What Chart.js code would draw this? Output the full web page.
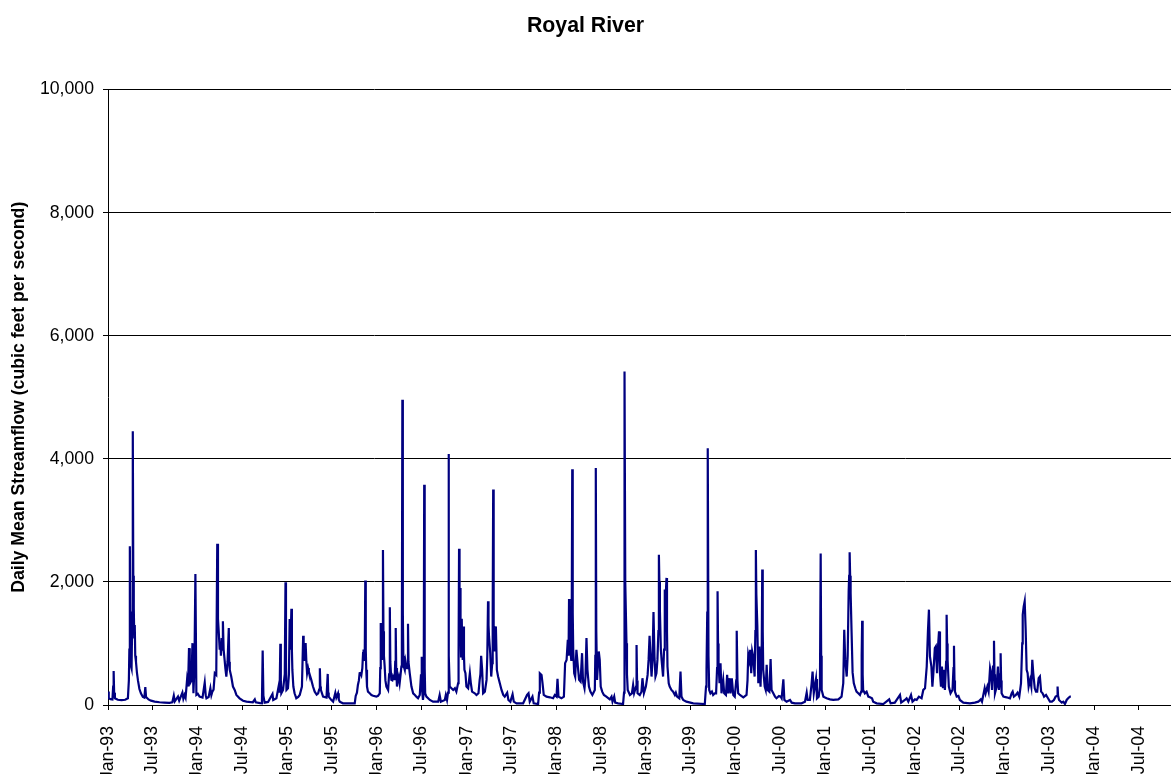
<!DOCTYPE html>
<html>
<head>
<meta charset="utf-8">
<script src="https://cdn.jsdelivr.net/npm/chart.js@4.4.0/dist/chart.umd.min.js"></script>
<style>
  html, body { margin: 0; padding: 0; background: #fff; }
  #wrap { width: 1171px; height: 774px; }
</style>
</head>
<body>
<div id="wrap"><canvas id="flowChart" width="1171" height="774"></canvas></div>
<script>
/* ================= DATA ================= */
const chartTitle = "Royal River";
const yAxisTitle = "Daily Mean Streamflow (cubic feet per second)";

const tickLabels = [
  "Jan-93", "Jul-93", "Jan-94", "Jul-94", "Jan-95", "Jul-95", "Jan-96", "Jul-96",
  "Jan-97", "Jul-97", "Jan-98", "Jul-98", "Jan-99", "Jul-99", "Jan-00", "Jul-00",
  "Jan-01", "Jul-01", "Jan-02", "Jul-02", "Jan-03", "Jul-03", "Jan-04", "Jul-04"
];
const yTicks = [0, 2000, 4000, 6000, 8000, 10000];

// days since 1 Jan 1993
const days = [
  0, 2, 4, 10, 18, 21, 23, 25, 28, 40, 55, 70, 81, 85, 87, 89, 91, 93, 96, 99,
  101, 103, 105, 107, 109, 111, 114, 118, 122, 128, 134, 142, 148, 152, 155, 165, 175, 190, 210, 230,
  250, 262, 268, 272, 285, 290, 303, 307, 312, 316, 322, 326, 330, 333, 335, 340, 344, 348, 352, 356,
  360, 366, 373, 385, 394, 398, 401, 410, 417, 421, 425, 430, 435, 441, 445, 448, 451, 455, 458, 460,
  463, 466, 468, 471, 475, 478, 482, 487, 492, 494, 496, 502, 509, 516, 523, 536, 550, 564, 590, 598,
  602, 620, 627, 630, 633, 638, 652, 670, 673, 686, 695, 699, 702, 704, 706, 713, 720, 723, 725, 727,
  733, 737, 740, 743, 747, 749, 751, 755, 760, 767, 775, 781, 790, 795, 797, 799, 802, 805, 808, 811,
  815, 818, 824, 828, 835, 842, 850, 856, 860, 863, 865, 867, 876, 890, 895, 897, 899, 910, 917, 926,
  930, 937, 940, 944, 957, 980, 1005, 1009, 1014, 1018, 1022, 1025, 1029, 1032, 1036, 1039, 1041, 1043, 1046, 1048,
  1050, 1052, 1055, 1059, 1066, 1073, 1080, 1093, 1100, 1107, 1109, 1111, 1113, 1116, 1118, 1120, 1122, 1124, 1127, 1130,
  1134, 1141, 1145, 1148, 1150, 1154, 1158, 1161, 1165, 1168, 1170, 1172, 1174, 1177, 1180, 1184, 1188, 1192, 1195, 1197,
  1199, 1201, 1203, 1205, 1209, 1212, 1215, 1218, 1222, 1224, 1229, 1236, 1243, 1250, 1256, 1263, 1270, 1275, 1277, 1279,
  1283, 1286, 1288, 1290, 1292, 1297, 1311, 1324, 1345, 1351, 1356, 1372, 1376, 1381, 1385, 1387, 1389, 1392, 1399, 1406,
  1413, 1419, 1426, 1428, 1430, 1432, 1434, 1436, 1438, 1441, 1443, 1445, 1448, 1450, 1452, 1456, 1460, 1467, 1474, 1478,
  1483, 1494, 1501, 1509, 1514, 1517, 1520, 1524, 1528, 1535, 1542, 1545, 1548, 1550, 1552, 1557, 1561, 1565, 1567, 1569,
  1571, 1574, 1576, 1580, 1584, 1589, 1596, 1603, 1610, 1616, 1626, 1631, 1639, 1648, 1653, 1664, 1691, 1707, 1713, 1718,
  1729, 1734, 1752, 1756, 1759, 1766, 1770, 1775, 1786, 1800, 1813, 1820, 1827, 1831, 1835, 1847, 1857, 1862, 1868, 1873,
  1876, 1878, 1880, 1882, 1887, 1889, 1891, 1893, 1895, 1899, 1903, 1908, 1914, 1919, 1925, 1931, 1935, 1941, 1945, 1949,
  1953, 1959, 1965, 1973, 1983, 1985, 1987, 1989, 1992, 1999, 2003, 2007, 2013, 2020, 2030, 2044, 2051, 2055, 2062, 2066,
  2078, 2098, 2102, 2104, 2107, 2112, 2114, 2117, 2126, 2134, 2139, 2143, 2151, 2153, 2155, 2157, 2166, 2173, 2177, 2183,
  2191, 2198, 2202, 2206, 2210, 2214, 2218, 2222, 2226, 2230, 2234, 2238, 2242, 2244, 2246, 2248, 2252, 2255, 2261, 2265,
  2268, 2271, 2275, 2277, 2279, 2284, 2288, 2295, 2302, 2309, 2313, 2318, 2327, 2332, 2336, 2343, 2356, 2384, 2431, 2436,
  2438, 2441, 2443, 2446, 2449, 2454, 2460, 2465, 2472, 2477, 2481, 2483, 2485, 2487, 2491, 2495, 2499, 2506, 2510, 2517,
  2522, 2526, 2532, 2536, 2541, 2547, 2553, 2559, 2561, 2564, 2567, 2574, 2588, 2601, 2605, 2608, 2612, 2616, 2620, 2624,
  2628, 2634, 2637, 2639, 2641, 2645, 2649, 2653, 2658, 2663, 2665, 2667, 2669, 2675, 2679, 2683, 2687, 2694, 2699, 2703,
  2710, 2717, 2723, 2733, 2740, 2744, 2751, 2755, 2764, 2778, 2785, 2798, 2825, 2839, 2846, 2850, 2859, 2866, 2870, 2875,
  2884, 2888, 2895, 2900, 2903, 2905, 2907, 2914, 2927, 2941, 2954, 2975, 2988, 2995, 2999, 3003, 3009, 3013, 3017, 3019,
  3021, 3023, 3025, 3029, 3033, 3038, 3044, 3049, 3056, 3063, 3068, 3070, 3072, 3074, 3076, 3083, 3090, 3097, 3104, 3112,
  3117, 3131, 3158, 3182, 3188, 3205, 3226, 3231, 3246, 3253, 3260, 3271, 3277, 3287, 3294, 3303, 3314, 3321, 3328, 3335,
  3340, 3344, 3348, 3354, 3358, 3362, 3368, 3372, 3377, 3381, 3385, 3389, 3393, 3397, 3401, 3405, 3409, 3414, 3416, 3418,
  3420, 3425, 3432, 3440, 3444, 3446, 3448, 3450, 3457, 3464, 3470, 3484, 3511, 3531, 3545, 3555, 3560, 3571, 3575, 3582,
  3587, 3593, 3597, 3601, 3605, 3609, 3611, 3613, 3620, 3625, 3629, 3634, 3636, 3638, 3640, 3647, 3660, 3674, 3681, 3685,
  3690, 3698, 3705, 3712, 3719, 3724, 3726, 3730, 3734, 3738, 3742, 3746, 3750, 3756, 3761, 3765, 3769, 3775, 3780, 3785,
  3791, 3796, 3801, 3807, 3813, 3821, 3829, 3837, 3845, 3853, 3860, 3866, 3868, 3870, 3874, 3885, 3891, 3898, 3905, 3911,
  3918, 3922
];

// daily mean streamflow, cfs
const flow = [
  180, 220, 110, 95, 90, 300, 554, 200, 110, 85, 80, 85, 110, 400, 900, 2580, 1200, 650, 600, 1500,
  4450, 2100, 1580, 1100, 1300, 800, 700, 520, 400, 260, 190, 130, 120, 290, 130, 90, 70, 55, 45, 40,
  35, 45, 152, 60, 136, 70, 200, 100, 163, 120, 408, 300, 924, 500, 360, 400, 1005, 190, 600, 2130,
  163, 180, 136, 120, 364, 160, 110, 130, 272, 160, 217, 250, 516, 489, 2620, 1400, 1196, 900, 1005, 800,
  1087, 900, 1359, 900, 733, 600, 462, 700, 1250, 700, 570, 462, 300, 245, 163, 109, 70, 54, 45, 92,
  45, 30, 27, 886, 150, 38, 50, 180, 82, 109, 300, 200, 995, 400, 190, 245, 500, 1995, 600, 245,
  272, 500, 1397, 900, 1565, 900, 570, 300, 190, 109, 130, 163, 300, 1125, 800, 733, 800, 1005, 700, 516,
  600, 543, 462, 408, 300, 217, 170, 190, 250, 598, 300, 245, 136, 120, 505, 200, 136, 80, 54, 200,
  120, 190, 90, 54, 27, 25, 27, 147, 200, 326, 400, 516, 520, 489, 600, 842, 900, 733, 900, 2022,
  900, 571, 300, 217, 190, 163, 150, 136, 150, 190, 600, 1331, 900, 733, 1300, 2520, 1200, 800, 625, 400,
  299, 245, 500, 1587, 700, 408, 400, 462, 420, 462, 700, 1250, 600, 300, 400, 462, 353, 500, 625, 900,
  4960, 1500, 800, 625, 571, 700, 625, 600, 1320, 700, 516, 300, 190, 163, 136, 109, 163, 500, 786, 300,
  82, 200, 3580, 600, 190, 136, 82, 54, 54, 163, 54, 82, 163, 82, 200, 4080, 800, 300, 272, 245,
  272, 217, 353, 800, 2540, 1500, 1900, 1200, 788, 1400, 900, 733, 1277, 800, 570, 516, 300, 272, 516, 353,
  217, 190, 163, 190, 408, 500, 800, 571, 190, 217, 408, 800, 1685, 1300, 1114, 842, 462, 679, 1500, 3500,
  1277, 1000, 870, 1277, 570, 462, 353, 245, 163, 136, 200, 82, 54, 174, 54, 27, 27, 163, 190, 54,
  136, 27, 16, 200, 516, 489, 353, 163, 136, 125, 109, 163, 136, 424, 136, 109, 136, 680, 733, 1060,
  800, 1723, 1200, 951, 733, 1500, 3830, 1500, 897, 516, 462, 897, 625, 408, 380, 842, 380, 272, 462, 1087,
  571, 299, 217, 163, 245, 800, 3850, 1200, 408, 870, 734, 299, 217, 163, 136, 92, 136, 54, 136, 38,
  27, 16, 200, 5420, 2000, 1005, 500, 245, 163, 190, 326, 190, 300, 976, 400, 190, 163, 217, 435, 190,
  299, 489, 733, 1125, 788, 462, 733, 1511, 788, 462, 516, 733, 1200, 2440, 2000, 1550, 900, 733, 462, 900,
  1875, 1700, 2065, 1200, 625, 353, 299, 245, 217, 163, 200, 136, 109, 543, 136, 82, 54, 27, 16, 300,
  598, 1500, 4170, 800, 245, 190, 217, 163, 190, 190, 600, 1848, 1000, 679, 353, 679, 190, 408, 190, 163,
  489, 190, 435, 190, 435, 163, 136, 400, 1206, 400, 190, 163, 125, 163, 400, 815, 734, 897, 516, 870,
  788, 462, 1200, 2520, 1800, 1277, 353, 951, 299, 1000, 2200, 1200, 571, 299, 245, 652, 245, 217, 745, 245,
  190, 136, 109, 147, 136, 109, 418, 82, 54, 82, 38, 27, 27, 54, 200, 82, 82, 342, 543, 190,
  424, 109, 136, 300, 2460, 800, 245, 136, 109, 92, 82, 92, 136, 353, 1223, 733, 462, 800, 1848, 2100,
  2480, 2100, 1820, 1168, 530, 353, 272, 217, 190, 163, 217, 800, 1370, 500, 245, 190, 217, 136, 125, 109,
  54, 27, 16, 92, 27, 38, 163, 38, 82, 109, 54, 163, 54, 92, 82, 136, 109, 245, 272, 625,
  1206, 1549, 788, 625, 299, 516, 924, 951, 516, 951, 1196, 516, 299, 625, 272, 571, 245, 700, 1467, 1000,
  734, 299, 190, 245, 600, 962, 400, 217, 136, 147, 82, 38, 27, 38, 54, 92, 54, 272, 190, 299,
  217, 598, 516, 245, 625, 1043, 500, 190, 299, 625, 245, 500, 842, 400, 190, 136, 125, 109, 190, 217,
  136, 163, 200, 136, 353, 1000, 1467, 1603, 1685, 1223, 570, 516, 299, 408, 299, 733, 516, 272, 217, 217,
  435, 462, 217, 190, 136, 163, 109, 54, 54, 82, 136, 150, 300, 150, 82, 38, 54, 16, 82, 109,
  136, 140
];

/* ================= AXIS HELPERS ================= */
const START_UTC = Date.UTC(1993, 0, 1);
const MONTH_INDEX = { Jan: 0, Jul: 6 };
const X_MAX_DAY = 4330;

function labelToDay(label) {
  const [mon, yy] = label.split("-");
  const n = Number(yy);
  const year = n < 50 ? 2000 + n : 1900 + n;
  return Math.round((Date.UTC(year, MONTH_INDEX[mon], 1) - START_UTC) / 86400000);
}

const tickDays = tickLabels.map(labelToDay);
const points = days.map((d, i) => ({ x: d, y: flow[i] }));

const FONT = "'Liberation Sans', Arial, sans-serif";

/* ================= CHART ================= */
new Chart(document.getElementById("flowChart"), {
  type: "line",
  data: {
    datasets: [
      {
        data: points,
        borderColor: "#000080",
        borderWidth: 2.2,
        pointRadius: 0,
        tension: 0,
        fill: false,
      },
    ],
  },
  options: {
    responsive: false,
    animation: false,
    devicePixelRatio: 1,
    layout: { padding: 0 },
    plugins: {
      legend: { display: false },
      tooltip: { enabled: false },
      title: {
        display: true,
        text: chartTitle,
        color: "#000",
        font: { family: FONT, size: 21.3, weight: "bold" },
        padding: { top: 13, bottom: 51 },
      },
    },
    scales: {
      x: {
        type: "linear",
        min: 0,
        max: X_MAX_DAY,
        afterBuildTicks: (scale) => {
          scale.ticks = tickDays.map((v) => ({ value: v }));
        },
        afterFit: (scale) => {
          scale.height = 69;
          // plot runs to the right edge, labels may be clipped
          scale.paddingLeft = 0;
          scale.paddingRight = 0;
        },
        ticks: {
          autoSkip: false,
          minRotation: 90,
          maxRotation: 90,
          padding: 16,
          color: "#000",
          font: { family: FONT, size: 17.7 },
          callback: (value, index) => tickLabels[index],
        },
        grid: {
          drawOnChartArea: false,
          drawTicks: true,
          tickLength: 5,
          color: "#000",
        },
        border: { display: true, color: "#000", width: 1 },
      },
      y: {
        min: 0,
        max: 10000,
        afterBuildTicks: (scale) => {
          scale.ticks = yTicks.map((v) => ({ value: v }));
        },
        afterFit: (scale) => {
          scale.width = 108;
        },
        ticks: {
          padding: 9,
          color: "#000",
          font: { family: FONT, size: 17.7 },
          callback: (value) => value.toLocaleString("en-US"),
        },
        grid: { color: "#000", drawTicks: true, tickLength: 5 },
        border: { display: true, color: "#000", width: 1 },
        title: {
          display: true,
          text: yAxisTitle,
          color: "#000",
          font: { family: FONT, size: 17.7, weight: "bold" },
          padding: { top: 8, bottom: 0 },
        },
      },
    },
  },
});
</script>
</body>
</html>
